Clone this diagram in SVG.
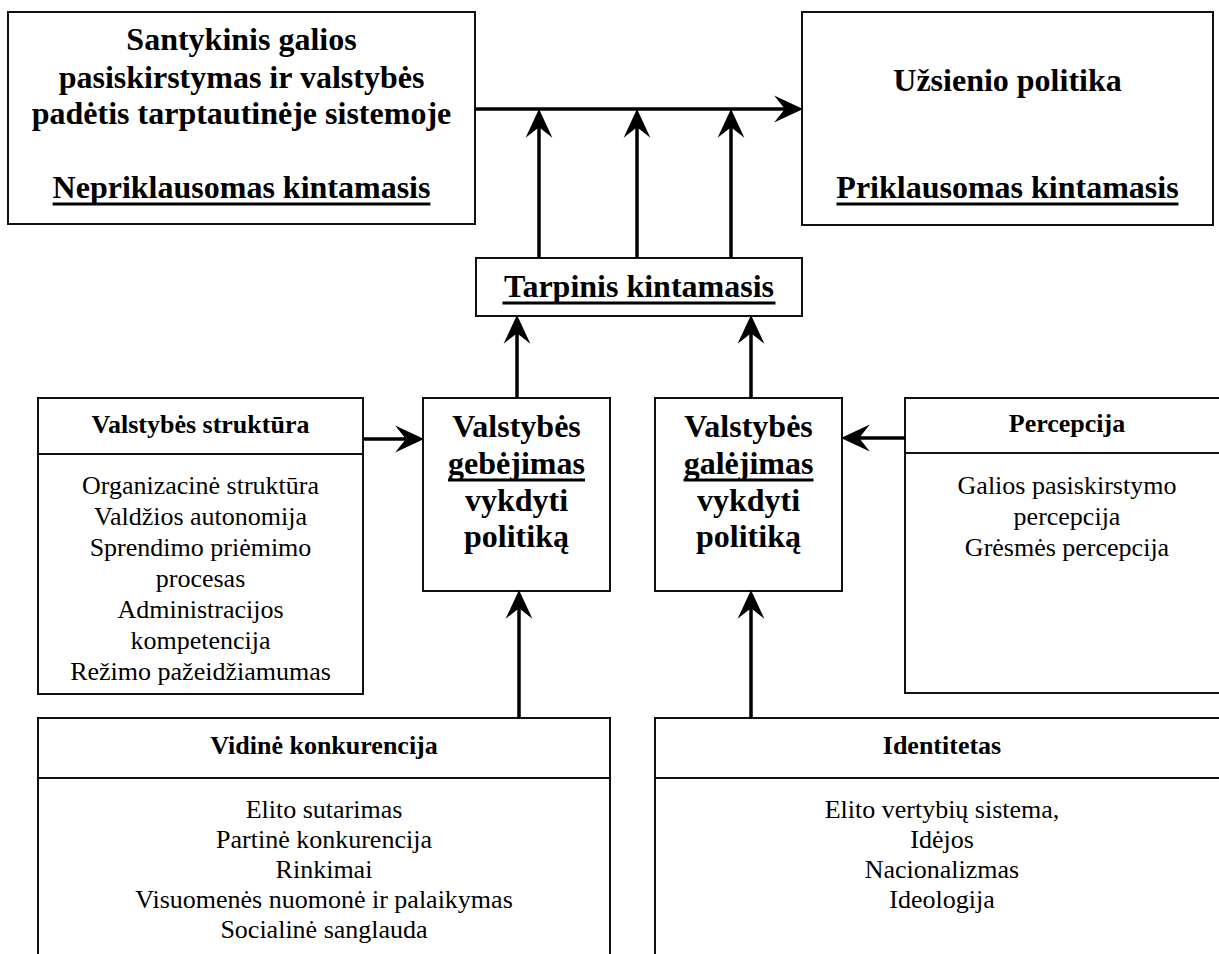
<svg xmlns="http://www.w3.org/2000/svg" width="1219" height="954" viewBox="0 0 1219 954">
  <style>
    .box { fill: #fff; stroke: #111; stroke-width: 2; }
    .div { stroke: #111; stroke-width: 2; }
    .big { font-family: "Liberation Serif", "Times New Roman", serif; font-weight: bold; font-size: 32px; fill: #000; text-anchor: middle; }
    .head { font-family: "Liberation Serif", "Times New Roman", serif; font-weight: bold; font-size: 26px; fill: #000; text-anchor: middle; }
    .item { font-family: "Liberation Serif", "Times New Roman", serif; font-size: 26px; fill: #000; text-anchor: middle; }
    .ul { stroke: #000; stroke-width: 3; }
    .arrow { stroke: #000; stroke-width: 3.5; fill: none; marker-end: url(#ah); }
  </style>
  <defs>
    <marker id="ah" markerUnits="userSpaceOnUse" markerWidth="30" markerHeight="28" viewBox="0 -13 28 26" refX="12" refY="0" orient="auto">
      <path d="M27,0 L0,-12.5 L10,0 L0,12.5 Z" fill="#000"/>
    </marker>
  </defs>

  <rect width="1219" height="954" fill="#fff"/>

  <!-- independent variable -->
  <g id="independent">
    <rect class="box" x="8" y="12" width="467" height="212"/>
    <text class="big" x="241.5" y="50">Santykinis galios</text>
    <text class="big" x="241.5" y="88">pasiskirstymas ir valstybės</text>
    <text class="big" x="241.5" y="124">padėtis tarptautinėje sistemoje</text>
    <text class="big" x="241.5" y="198">Nepriklausomas kintamasis</text>
    <line class="ul" x1="52.6" y1="204" x2="430.4" y2="204"/>
  </g>

  <!-- dependent variable -->
  <g id="dependent">
    <rect class="box" x="802" y="12" width="411" height="213"/>
    <text class="big" x="1007.5" y="91">Užsienio politika</text>
    <text class="big" x="1007.5" y="198">Priklausomas kintamasis</text>
    <line class="ul" x1="836.5" y1="204" x2="1178.5" y2="204"/>
  </g>

  <!-- intervening variable -->
  <g id="intervening">
    <rect class="box" x="476" y="258" width="326" height="58"/>
    <text class="big" x="639" y="297">Tarpinis kintamasis</text>
    <line class="ul" x1="502.5" y1="303" x2="775.5" y2="303"/>
  </g>

  <!-- state capacity -->
  <g id="capacity">
    <rect class="box" x="423" y="398" width="187" height="193"/>
    <text class="big" x="516.5" y="437">Valstybės</text>
    <text class="big" x="516.5" y="474">gebėjimas</text>
    <line class="ul" x1="448" y1="480" x2="585" y2="480"/>
    <text class="big" x="516.5" y="511">vykdyti</text>
    <text class="big" x="516.5" y="547">politiką</text>
  </g>

  <!-- state power -->
  <g id="power">
    <rect class="box" x="655" y="398" width="187" height="193"/>
    <text class="big" x="748.5" y="437">Valstybės</text>
    <text class="big" x="748.5" y="474">galėjimas</text>
    <line class="ul" x1="683.5" y1="480" x2="813.5" y2="480"/>
    <text class="big" x="748.5" y="511">vykdyti</text>
    <text class="big" x="748.5" y="547">politiką</text>
  </g>

  <!-- state structure -->
  <g id="structure">
    <rect class="box" x="38" y="398" width="325" height="296"/>
    <line class="div" x1="38" y1="454" x2="363" y2="454"/>
    <text class="head" x="200.5" y="433">Valstybės struktūra</text>
    <text class="item" x="200.5" y="494">Organizacinė struktūra</text>
    <text class="item" x="200.5" y="525">Valdžios autonomija</text>
    <text class="item" x="200.5" y="556">Sprendimo priėmimo</text>
    <text class="item" x="200.5" y="587">procesas</text>
    <text class="item" x="200.5" y="618">Administracijos</text>
    <text class="item" x="200.5" y="649">kompetencija</text>
    <text class="item" x="200.5" y="680">Režimo pažeidžiamumas</text>
  </g>

  <!-- perception -->
  <g id="perception">
    <rect class="box" x="905" y="398" width="324" height="295"/>
    <line class="div" x1="905" y1="453" x2="1229" y2="453"/>
    <text class="head" x="1067" y="432">Percepcija</text>
    <text class="item" x="1067" y="494">Galios pasiskirstymo</text>
    <text class="item" x="1067" y="525">percepcija</text>
    <text class="item" x="1067" y="556">Grėsmės percepcija</text>
  </g>

  <!-- domestic competition -->
  <g id="competition">
    <rect class="box" x="38" y="718" width="572" height="250"/>
    <line class="div" x1="38" y1="778" x2="610" y2="778"/>
    <text class="head" x="324" y="754">Vidinė konkurencija</text>
    <text class="item" x="324" y="818">Elito sutarimas</text>
    <text class="item" x="324" y="848">Partinė konkurencija</text>
    <text class="item" x="324" y="878">Rinkimai</text>
    <text class="item" x="324" y="908">Visuomenės nuomonė ir palaikymas</text>
    <text class="item" x="324" y="938">Socialinė sanglauda</text>
  </g>

  <!-- identity -->
  <g id="identity">
    <rect class="box" x="655" y="718" width="574" height="250"/>
    <line class="div" x1="655" y1="778" x2="1229" y2="778"/>
    <text class="head" x="942" y="754">Identitetas</text>
    <text class="item" x="942" y="818">Elito vertybių sistema,</text>
    <text class="item" x="942" y="848">Idėjos</text>
    <text class="item" x="942" y="878">Nacionalizmas</text>
    <text class="item" x="942" y="908">Ideologija</text>
  </g>

  <!-- connectors -->
  <g id="connectors">
    <line class="arrow" x1="475" y1="109" x2="787" y2="109"/>
    <line class="arrow" x1="539" y1="258" x2="539" y2="125"/>
    <line class="arrow" x1="637" y1="258" x2="637" y2="125"/>
    <line class="arrow" x1="731" y1="258" x2="731" y2="125"/>
    <line class="arrow" x1="517" y1="398" x2="517" y2="331"/>
    <line class="arrow" x1="751" y1="398" x2="751" y2="331"/>
    <line class="arrow" x1="519" y1="718" x2="519" y2="606"/>
    <line class="arrow" x1="751" y1="718" x2="751" y2="606"/>
    <line class="arrow" x1="363" y1="439" x2="408" y2="439"/>
    <line class="arrow" x1="905" y1="438" x2="857" y2="438"/>
  </g>
</svg>
